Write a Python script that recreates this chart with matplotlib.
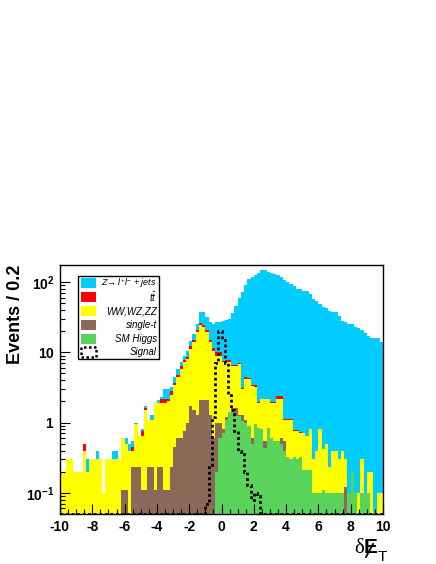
import numpy as np
import matplotlib
matplotlib.use("Agg")
import matplotlib.pyplot as plt
from matplotlib.patches import Rectangle
from matplotlib.lines import Line2D
from matplotlib.ticker import MultipleLocator, LogLocator, FixedLocator, FixedFormatter, NullFormatter

plt.rcParams['font.family'] = ['Liberation Sans', 'DejaVu Sans']
plt.rcParams['mathtext.fontset'] = 'custom'
plt.rcParams['mathtext.rm'] = 'Liberation Sans'
plt.rcParams['mathtext.it'] = 'Liberation Sans:italic'
plt.rcParams['mathtext.bf'] = 'Liberation Sans:bold'
plt.rcParams['axes.unicode_minus'] = False

# histogram range: 100 bins of 0.2 between -10 and 10
x_lo, x_hi, n_bins = -10.0, 10.0, 100

higgs = [
    0, 0, 0, 0, 0, 0, 0, 0, 0, 0,
    0, 0, 0, 0, 0, 0, 0, 0, 0, 0,
    0, 0, 0, 0, 0, 0, 0, 0, 0, 0,
    0, 0, 0, 0, 0, 0, 0, 0, 0, 0,
    0, 0, 0, 0, 0, 0, 0, 0, 0.2, 0.6,
    0.7, 1.1, 1.4, 1.4, 1.25, 1.25, 1.05, 1.0, 0.9, 0.5,
    0.95, 0.85, 0.8, 0.44, 0.85, 0.6, 0.55, 0.55, 0.5, 0.4,
    0.32, 0.3, 0.32, 0.3, 0.32, 0.21, 0.21, 0.21, 0.1, 0.1,
    0.1, 0.11, 0.1, 0.1, 0.1, 0.1, 0.1, 0.1, 0, 0.1,
    0.2, 0.1, 0, 0.1, 0.1, 0.1, 0, 0, 0, 0,
]
singletop = [
    0, 0, 0, 0, 0, 0, 0, 0, 0, 0,
    0, 0, 0, 0, 0, 0, 0, 0, 0, 0.11,
    0.11, 0, 0.23, 0.23, 0.23, 0.11, 0.11, 0.23, 0.23, 0.11,
    0.23, 0.23, 0.11, 0.11, 0.23, 0.45, 0.6, 0.6, 0.75, 1.0,
    1.7, 1.5, 1.3, 2.1, 2.1, 2.1, 1.3, 0.6, 0.8, 0.4,
    0.1, 0.1, 0, 0.2, 0.35, 0.05, 0.25, 0.1, 0, 0.1,
    0, 0, 0, 0.11, 0, 0, 0, 0, 0.1, 0.15,
    0, 0, 0, 0, 0, 0, 0, 0, 0, 0,
    0, 0, 0, 0, 0, 0, 0, 0, 0.12, 0,
    0, 0, 0, 0, 0, 0, 0, 0, 0, 0,
]
diboson = [
    0.2, 0.2, 0.3, 0.3, 0.2, 0.2, 0.2, 0.4, 0.2, 0.3,
    0.3, 0.3, 0.3, 0.1, 0.3, 0.3, 0.3, 0.3, 0.3, 0.49,
    0.39, 0.4, 0.17, 0.74, 0.42, 0.54, 1.39, 0.87, 0.87, 1.79,
    1.67, 1.67, 1.79, 1.89, 2.27, 2.95, 3.8, 5.2, 6.45, 7.0,
    9.5, 12.4, 18.0, 22.0, 20.6, 17.2, 12.6, 10.0, 8.0, 8.0,
    6.4, 6.0, 5.8, 4.8, 4.8, 5.5, 1.7, 3.1, 3.3, 2.7,
    2.25, 1.05, 1.35, 1.6, 1.3, 1.3, 1.35, 1.65, 1.6, 0.55,
    0.78, 0.8, 0.44, 0.46, 0.4, 0.51, 0.44, 0.59, 0.2, 0.3,
    0.7, 0.31, 0.4, 0.13, 0.3, 0.3, 0.2, 0.3, 0.18, 0,
    0, 0, 0.1, 0.2, 0, 0.1, 0.2, 0, 0.1, 0.1,
]
ttbar = [
    0, 0, 0, 0, 0, 0, 0, 0.1, 0, 0,
    0, 0, 0, 0, 0, 0, 0, 0, 0, 0,
    0, 0, 0.05, 0, 0, 0.1, 0.1, 0, 0, 0,
    0, 0.3, 0.3, 0.2, 0.3, 0.3, 0.4, 0.5, 0.6, 0.7,
    1.0, 1.3, 1.7, 1.9, 1.8, 1.7, 1.3, 1.0, 1.0, 1.0,
    0.4, 0.6, 0.6, 0.3, 0.3, 0.2, 0.1, 0.2, 0.1, 0.1,
    0.2, 0.05, 0.05, 0.05, 0.05, 0.05, 0.05, 0.2, 0.2, 0.03,
    0.03, 0.03, 0.02, 0.02, 0.02, 0, 0, 0, 0, 0,
    0, 0, 0, 0, 0, 0, 0, 0, 0, 0,
    0, 0, 0, 0, 0, 0, 0, 0, 0, 0,
]
zjets = [
    0, 0, 0, 0, 0, 0, 0, 0, 0.1, 0,
    0, 0.1, 0, 0, 0, 0, 0.1, 0.1, 0, 0,
    0.1, 0.1, 0.1, 0.03, 0, 0.05, 0.1, 0, 0.2, 0,
    0.2, 0.1, 0.8, 0.8, 0.4, 0.7, 1.0, 0.9, 1.2, 1.9,
    2.5, 3.1, 4.4, 11.3, 12.8, 10.6, 11.6, 13.8, 16.8, 17.0,
    20.4, 21.2, 22.2, 29.3, 38.3, 53, 69, 85.6, 105.7, 113.6,
    121.6, 133, 145, 145, 138, 133, 130, 122.6, 114.6, 107,
    99, 92, 86, 80, 79, 75, 73, 67, 56.7, 52.6,
    48, 43.6, 42.5, 38.8, 37.6, 36.6, 32.7, 27.6, 26.7, 24.9,
    24.8, 22.9, 21.9, 20.7, 18.9, 17.1, 15.8, 16, 15.7, 13.9,
]
signal = [
    0, 0, 0, 0, 0, 0, 0, 0, 0, 0,
    0, 0, 0, 0, 0, 0, 0, 0, 0, 0,
    0, 0, 0, 0, 0, 0, 0, 0, 0, 0,
    0, 0, 0, 0, 0, 0, 0, 0, 0, 0,
    0, 0, 0, 0, 0, 0.07, 0.25, 1.2, 7.0, 20.0,
    15.0, 7.0, 2.5, 1.5, 0.75, 0.4, 0.36, 0.2, 0.13, 0.08,
    0.1, 0.09, 0, 0, 0, 0, 0, 0, 0, 0,
    0, 0, 0, 0, 0, 0, 0, 0, 0, 0,
    0, 0, 0, 0, 0, 0, 0, 0, 0, 0,
    0, 0, 0, 0, 0, 0, 0, 0, 0, 0,
]

labels = [r'$Z\!\rightarrow l^{+}l^{-}$ + jets', r'$t\bar{t}$', 'WW,WZ,ZZ', 'single-t', 'SM Higgs']
colors = ['#00ccff', '#ff0000', '#ffff00', '#8a6958', '#59d359']

ymin, ymax = 0.05, 175.0
edges = np.linspace(x_lo, x_hi, n_bins + 1)

fig = plt.figure(figsize=(4.36, 5.64), dpi=100)
ax = fig.add_axes([60 / 436, 1 - 514 / 564, 323 / 436, 249 / 564])

# stack from bottom: higgs, single-t, diboson, ttbar, Z+jets
stack = np.cumsum(np.array([higgs, singletop, diboson, ttbar, zjets]), axis=0)
stack_colors = colors[::-1]
for k in range(4, -1, -1):
    vals = np.where(stack[k] > 0, stack[k], 1e-4)
    ax.stairs(vals, edges, fill=True, baseline=1e-4, color=stack_colors[k], lw=0)

sig = np.maximum(np.array(signal), ymin)
ax.stairs(sig, edges, baseline=None, color='black', lw=2, ls=(0, (1, 1)))

ax.set_yscale('log')
ax.set_xlim(x_lo, x_hi)
ax.set_ylim(ymin, ymax)

ax.xaxis.set_major_locator(MultipleLocator(2))
ax.xaxis.set_minor_locator(MultipleLocator(0.5))
ax.yaxis.set_major_locator(FixedLocator([0.1, 1, 10, 100]))
ax.yaxis.set_major_formatter(FixedFormatter([r'$\mathbf{10^{-1}}$', r'$\mathbf{1}$',
                                             r'$\mathbf{10}$', r'$\mathbf{10^{2}}$']))
ax.yaxis.set_minor_locator(LogLocator(base=10, subs=np.arange(2, 10)))
ax.yaxis.set_minor_formatter(NullFormatter())
ax.tick_params(which='both', direction='in', top=False, right=False)
ax.tick_params(which='major', length=7, width=0.8, labelsize=10, pad=4)
ax.tick_params(which='minor', length=3.5, width=0.8)
for lab in ax.get_xticklabels():
    lab.set_fontweight('bold')
for sp in ax.spines.values():
    sp.set_linewidth(1.0)

# legend box, drawn by hand like the ROOT one
def axf(px, py):
    return (px - 60) / 323, (514 - py) / 249

bx0, by0 = axf(78, 359)
bx1, by1 = axf(159, 276)
ax.add_patch(Rectangle((bx0, by0), bx1 - bx0, by1 - by0, transform=ax.transAxes,
                       facecolor='white', edgecolor='black', lw=1, zorder=5))
entry_y = [283, 297, 311, 325, 338.5, 352]
sq0, _ = axf(81, 0)
sq1, _ = axf(96, 0)
tx, _ = axf(157, 0)
sqh = 10 / 249
for i, yy in enumerate(entry_y):
    _, fy = axf(0, yy)
    if i < 5:
        ax.add_patch(Rectangle((sq0, fy - sqh / 2), sq1 - sq0, sqh, transform=ax.transAxes,
                               facecolor=colors[i], edgecolor='none', zorder=6))
        txt = labels[i]
    else:
        ax.add_patch(Rectangle((sq0, fy - sqh / 2), sq1 - sq0, sqh, transform=ax.transAxes,
                               facecolor='none', edgecolor='black', lw=1.8,
                               ls=(0, (1, 1)), zorder=6))
        txt = 'Signal'
    ax.text(tx, fy, txt, transform=ax.transAxes, ha='right', va='center',
            fontsize=6.5 if i == 0 else 7, style='italic', zorder=7)

# axis titles
fig.text(15 / 436, 1 - 265 / 564, 'Events / 0.2', rotation=90, ha='center', va='top',
         fontsize=13, fontweight='bold')
fig.text(354 / 436, 1 - 553 / 564, 'δ', fontsize=15, family='Liberation Serif',
         ha='left', va='baseline')
fig.text(364 / 436, 1 - 553 / 564, 'E', fontsize=15, fontweight='bold',
         ha='left', va='baseline')
fig.text(378 / 436, 1 - 561 / 564, 'T', fontsize=11, ha='left', va='baseline')
fig.add_artist(Line2D([366 / 436, 373 / 436], [1 - 557 / 564, 1 - 544 / 564],
                      transform=fig.transFigure, color='black', lw=1.3))

fig.savefig('out.png', dpi=100)
